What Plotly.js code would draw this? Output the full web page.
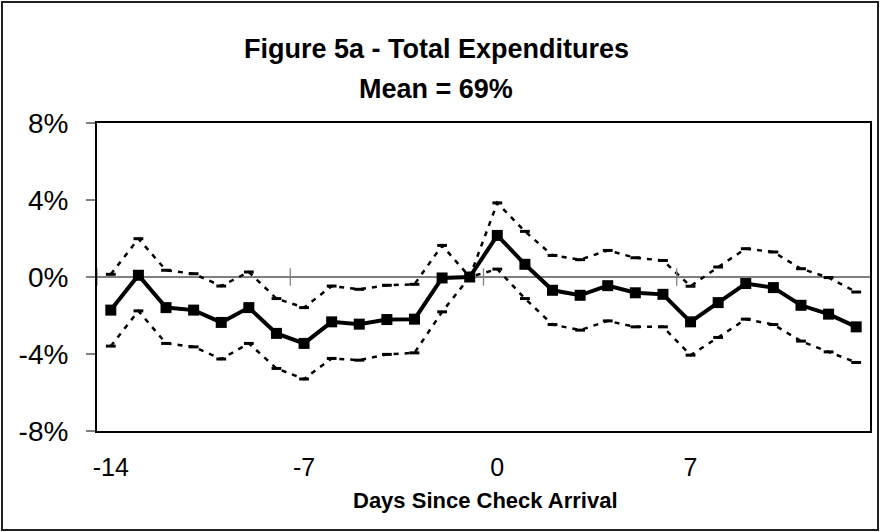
<!DOCTYPE html>
<html>
<head>
<meta charset="utf-8">
<script src="https://cdn.plot.ly/plotly-3.0.1.min.js"></script>
<style>
  html, body { margin: 0; padding: 0; background: #fff; }
  #chart { width: 880px; height: 532px; }
</style>
</head>
<body>
<div id="chart"></div>
<script>
// ---- data (percent) ----
const days = [-14, -13, -12, -11, -10, -9, -8, -7, -6, -5, -4, -3, -2, -1, 0, 1, 2, 3, 4, 5, 6, 7, 8, 9, 10, 11, 12, 13];
const meanPct = [-1.72, 0.09, -1.59, -1.72, -2.36, -1.59, -2.93, -3.45, -2.33, -2.45, -2.21, -2.19, -0.05, 0.00,
                 2.16, 0.66, -0.69, -0.95, -0.45, -0.82, -0.90, -2.33, -1.33, -0.34, -0.55, -1.47, -1.93, -2.59];
const upperPct = [0.14, 1.99, 0.35, 0.17, -0.47, 0.26, -1.12, -1.59, -0.47, -0.64, -0.43, -0.38, 1.64, 0.00,
                  3.85, 2.37, 1.12, 0.90, 1.38, 1.00, 0.86, -0.48, 0.52, 1.47, 1.30, 0.43, -0.03, -0.78];
const lowerPct = [-3.59, -1.76, -3.45, -3.63, -4.26, -3.45, -4.75, -5.30, -4.23, -4.32, -4.02, -3.94, -1.81, 0.00,
                  0.41, -1.12, -2.47, -2.76, -2.28, -2.59, -2.59, -4.06, -3.14, -2.19, -2.47, -3.33, -3.89, -4.44];
const xTickVals = [-14, -7, 0, 7];
const yTickVals = [-8, -4, 0, 4, 8];
const titleLine1 = "Figure 5a - Total Expenditures";
const titleLine2 = "Mean = 69%";
const xTitle = "Days Since Check Arrival";

// ---- geometry ----
const W = 880, H = 532;
const M = { l: 97, r: 10, t: 123, b: 101 };
const pw = W - M.l - M.r, ph = H - M.t - M.b;
const px2x = p => (p - M.l) / pw;
const py2y = p => (H - M.b - p) / ph;

const FONT = "Liberation Sans, Arial, sans-serif";

const bandStyle = {
  mode: "lines+markers",
  line: { color: "#000", width: 2.5, dash: "5px,6px" },
  marker: { symbol: "line-ew", size: 7, color: "#000", line: { color: "#000", width: 3 } },
  hoverinfo: "skip",
  showlegend: false
};

const traces = [
  Object.assign({ x: days, y: upperPct, type: "scatter" }, bandStyle),
  Object.assign({ x: days, y: lowerPct, type: "scatter" }, bandStyle),
  {
    x: days, y: meanPct, type: "scatter", mode: "lines+markers",
    line: { color: "#000", width: 4 },
    marker: { symbol: "square", size: 11, color: "#000" },
    showlegend: false
  }
];

// cross tick marks on the zero line, at category boundaries
const crossTicks = xTickVals.map(v => ({
  type: "line", xref: "x", yref: "y",
  x0: v - 0.5, x1: v - 0.5, y0: -0.45, y1: 0.45,
  line: { color: "#808080", width: 1.3 }
}));

const layout = {
  width: W, height: H,
  margin: M,
  paper_bgcolor: "#fff",
  plot_bgcolor: "#fff",
  font: { family: FONT, color: "#000" },
  showlegend: false,
  xaxis: {
    type: "linear",
    range: [-14.5, 13.5],
    tickvals: xTickVals,
    ticktext: xTickVals.map(String),
    ticks: "",
    showgrid: false,
    zeroline: false,
    showline: true, mirror: true, linecolor: "#000", linewidth: 2,
    tickfont: { family: FONT, size: 25, color: "#000" },
    ticklabelstandoff: 13
  },
  yaxis: {
    range: [-8, 8],
    tickvals: yTickVals,
    ticktext: yTickVals.map(v => v + "%"),
    ticks: "outside", ticklen: 9, tickcolor: "#808080", tickwidth: 1.3,
    showgrid: false,
    zeroline: true, zerolinecolor: "#808080", zerolinewidth: 1.3,
    showline: true, mirror: true, linecolor: "#000", linewidth: 2,
    tickfont: { family: FONT, size: 28, color: "#000" },
    ticklabelstandoff: 12
  },
  annotations: [
    { text: "<b>" + titleLine1 + "</b>", xref: "paper", yref: "paper",
      x: px2x(436), y: py2y(48.8), xanchor: "center", yanchor: "middle",
      showarrow: false, font: { family: FONT, size: 27, color: "#000" } },
    { text: "<b>" + titleLine2 + "</b>", xref: "paper", yref: "paper",
      x: px2x(436), y: py2y(88.8), xanchor: "center", yanchor: "middle",
      showarrow: false, font: { family: FONT, size: 27, color: "#000" } },
    { text: "<b>" + xTitle + "</b>", xref: "paper", yref: "paper",
      x: px2x(485), y: py2y(500.8), xanchor: "center", yanchor: "middle",
      showarrow: false, font: { family: FONT, size: 22, color: "#000" } }
  ],
  shapes: crossTicks.concat([
    { type: "rect", xref: "paper", yref: "paper",
      x0: px2x(2), x1: px2x(878), y0: py2y(530), y1: py2y(2),
      line: { color: "#222", width: 2 }, layer: "below" }
  ])
};

Plotly.newPlot("chart", traces, layout, { staticPlot: true, displayModeBar: false });
</script>
</body>
</html>
